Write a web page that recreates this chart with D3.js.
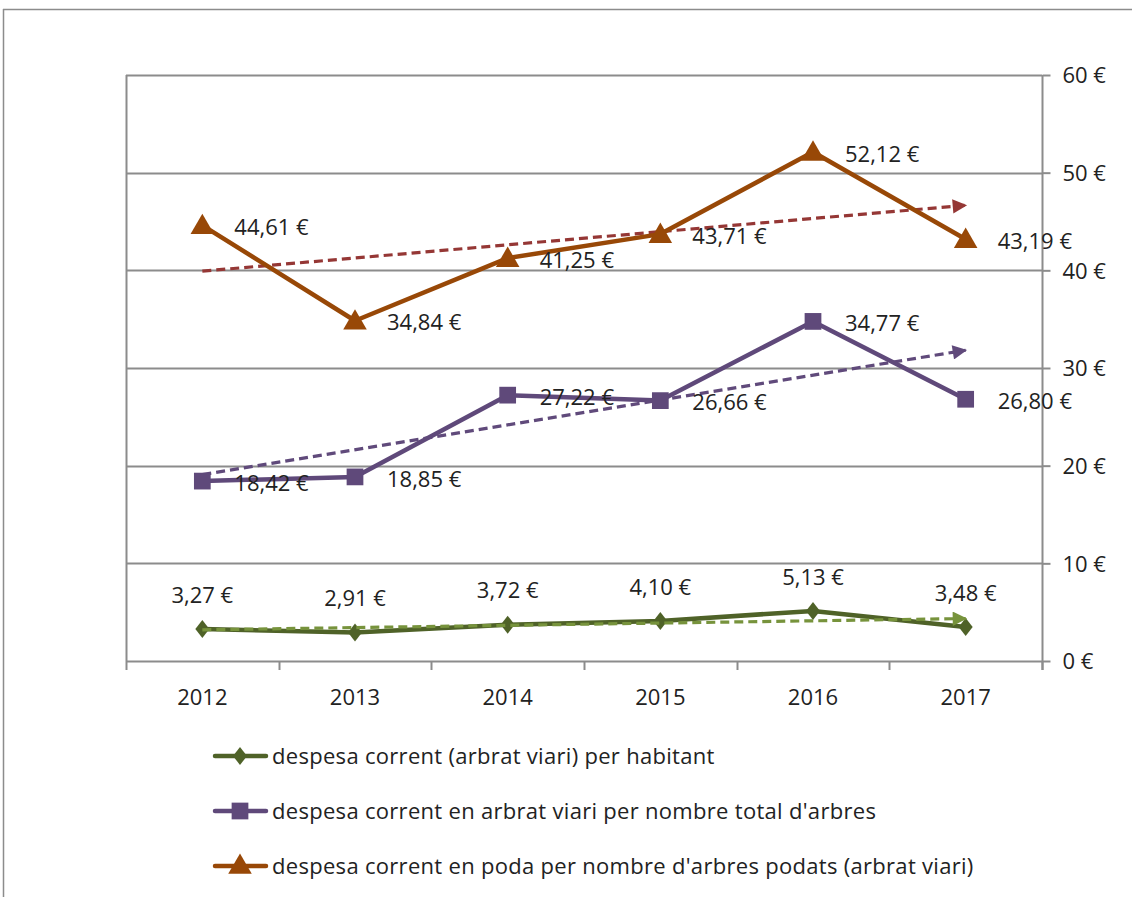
<!DOCTYPE html>
<html><head><meta charset="utf-8">
<script src="https://cdn.jsdelivr.net/npm/d3@7"></script>
<style>
html,body{margin:0;padding:0;background:#fff;}
svg{display:block;font-family:"Open Sans","Lato",sans-serif;}
</style></head>
<body>
<svg id="chart" width="1132" height="897"></svg>
<script>
const years = ["2012","2013","2014","2015","2016","2017"];
const perHabitant = [3.27, 2.91, 3.72, 4.10, 5.13, 3.48];
const perTree = [18.42, 18.85, 27.22, 26.66, 34.77, 26.80];
const perPruned = [44.61, 34.84, 41.25, 43.71, 52.12, 43.19];
const yTicks = [0, 10, 20, 30, 40, 50, 60];
const seriesNames = [
  "despesa corrent (arbrat viari) per habitant",
  "despesa corrent en arbrat viari per nombre total d'arbres",
  "despesa corrent en poda per nombre d'arbres podats (arbrat viari)"
];

const series = [
  {name: seriesNames[0], values: perHabitant, color: "#4F6228", trend: "#77933C", marker: "diamond", label: "above", trendOnTop: true},
  {name: seriesNames[1], values: perTree, color: "#5F497A", trend: "#604A7B", marker: "square", label: "right", trendOnTop: false},
  {name: seriesNames[2], values: perPruned, color: "#984807", trend: "#953735", marker: "triangle", label: "right", trendOnTop: false}
];

const svg = d3.select("#chart");
const L = 126, R = 1042, T = 75, B = 661;
const x = d3.scaleBand().domain(years).range([L, R]);
const y = d3.scaleLinear().domain([0, 60]).range([B, T]);
const cx = d => x(d) + x.bandwidth() / 2;
const fmt = v => d3.format(".2f")(v).replace(".", ",") + " €";
const grey = "#8c8c8c";
const txt = "#222222";
const FS = "22px";

// outer frame
svg.append("line").attr("x1", 3).attr("x2", 1132).attr("y1", 9.5).attr("y2", 9.5).attr("stroke", grey).attr("stroke-width", 1.5);
svg.append("line").attr("x1", 3.5).attr("x2", 3.5).attr("y1", 9).attr("y2", 897).attr("stroke", grey).attr("stroke-width", 1.5);

// gridlines
svg.append("g").selectAll("line").data(yTicks).join("line")
  .attr("x1", L).attr("x2", R).attr("y1", d => Math.round(y(d)) + 0.5).attr("y2", d => Math.round(y(d)) + 0.5)
  .attr("stroke", grey).attr("stroke-width", 2);
// left border
svg.append("line").attr("x1", L + 0.5).attr("x2", L + 0.5).attr("y1", T).attr("y2", B).attr("stroke", grey).attr("stroke-width", 2);

// right axis
const yAxis = d3.axisRight(y).tickValues(yTicks).tickSize(8).tickPadding(12).tickFormat(d => d + " €");
const ga = svg.append("g").attr("transform", `translate(${R + 0.5},0)`).call(yAxis);
ga.select(".domain").attr("stroke", grey).attr("stroke-width", 2).attr("d", `M0,${T}V${B + 9}`);
ga.selectAll(".tick line").attr("stroke", grey).attr("stroke-width", 2);
ga.selectAll(".tick text").attr("fill", txt).style("font-size", FS).style("font-family", "'Open Sans',sans-serif").attr("dy", "0.35em");

// x axis
const xAxis = d3.axisBottom(x).tickSize(0).tickPadding(28);
const gx = svg.append("g").attr("transform", `translate(0,${B})`).call(xAxis);
gx.select(".domain").remove();
gx.selectAll(".tick text").attr("fill", txt).style("font-size", FS).style("font-family", "'Open Sans',sans-serif");
const bounds = years.map(d => x(d)).concat([R]);
svg.append("g").selectAll("line").data(bounds).join("line")
  .attr("x1", d => Math.round(d) + 0.5).attr("x2", d => Math.round(d) + 0.5)
  .attr("y1", B).attr("y2", B + 9).attr("stroke", grey).attr("stroke-width", 2);

// arrow markers
const defs = svg.append("defs");
series.forEach((s, i) => {
  defs.append("marker").attr("id", "arr" + i).attr("viewBox", "0 0 10 10")
    .attr("refX", 9).attr("refY", 5).attr("markerWidth", 6).attr("markerHeight", 4.5)
    .attr("markerUnits", "strokeWidth").attr("orient", "auto")
    .append("path").attr("d", "M0,0L10,5L0,10z").attr("fill", s.trend);
});

const line = d3.line().x((d, i) => cx(years[i])).y(d => y(d));

function markerPath(type) {
  if (type === "diamond") return "M0,-9L7,0L0,9L-7,0Z";
  if (type === "square") return d3.symbol().type(d3.symbolSquare).size(280)();
  return d3.symbol().type(d3.symbolTriangle).size(240)();
}

function drawTrend(s, i) {
  // least squares fit of the series
  const xs = s.values.map((v, k) => k);
  const mx = d3.mean(xs), my = d3.mean(s.values);
  const slope = d3.sum(xs, (k, j) => (k - mx) * (s.values[j] - my)) / d3.sum(xs, k => (k - mx) * (k - mx));
  const y0 = my - slope * mx, y1 = my + slope * (xs.length - 1 - mx);
  svg.append("line")
    .attr("x1", cx(years[0])).attr("y1", y(y0))
    .attr("x2", cx(years[years.length - 1])).attr("y2", y(y1))
    .attr("stroke", s.trend).attr("stroke-width", 3.2).attr("stroke-dasharray", "9,5")
    .attr("marker-end", `url(#arr${i})`);
}

series.forEach((s, i) => { if (!s.trendOnTop) drawTrend(s, i); });

series.forEach((s, i) => {
  svg.append("path").datum(s.values).attr("d", line).attr("fill", "none")
    .attr("stroke", s.color).attr("stroke-width", 4.5).attr("stroke-linejoin", "round");
  svg.append("g").selectAll("path").data(s.values).join("path")
    .attr("d", markerPath(s.marker))
    .attr("transform", (d, k) => `translate(${cx(years[k])},${y(d) + (s.marker === "triangle" ? 2 : 0)})`)
    .attr("fill", s.color);
  if (s.trendOnTop) drawTrend(s, i);
  svg.append("g").selectAll("text").data(s.values).join("text")
    .attr("x", (d, k) => s.label === "above" ? cx(years[k]) : cx(years[k]) + 32)
    .attr("y", d => s.label === "above" ? y(d) - 34 : y(d) + 2)
    .attr("dy", "0.35em")
    .attr("text-anchor", s.label === "above" ? "middle" : "start")
    .attr("fill", txt).style("font-size", FS)
    .text(d => fmt(d));
});

// legend
const lg = svg.append("g");
series.forEach((s, i) => {
  const ly = 756 + i * 55;
  const g = lg.append("g");
  g.append("line").attr("x1", 215).attr("x2", 266).attr("y1", ly).attr("y2", ly)
    .attr("stroke", s.color).attr("stroke-width", 4.5).attr("stroke-linecap", "round");
  g.append("path").attr("d", markerPath(s.marker)).attr("transform", `translate(240,${ly + (s.marker === "triangle" ? 1 : 0)})`).attr("fill", s.color);
  g.append("text").attr("x", 272).attr("y", ly).attr("dy", "0.35em").attr("fill", txt)
    .style("font-size", FS).style("letter-spacing", "0.3px").text(s.name);
});
</script>
</body></html>
